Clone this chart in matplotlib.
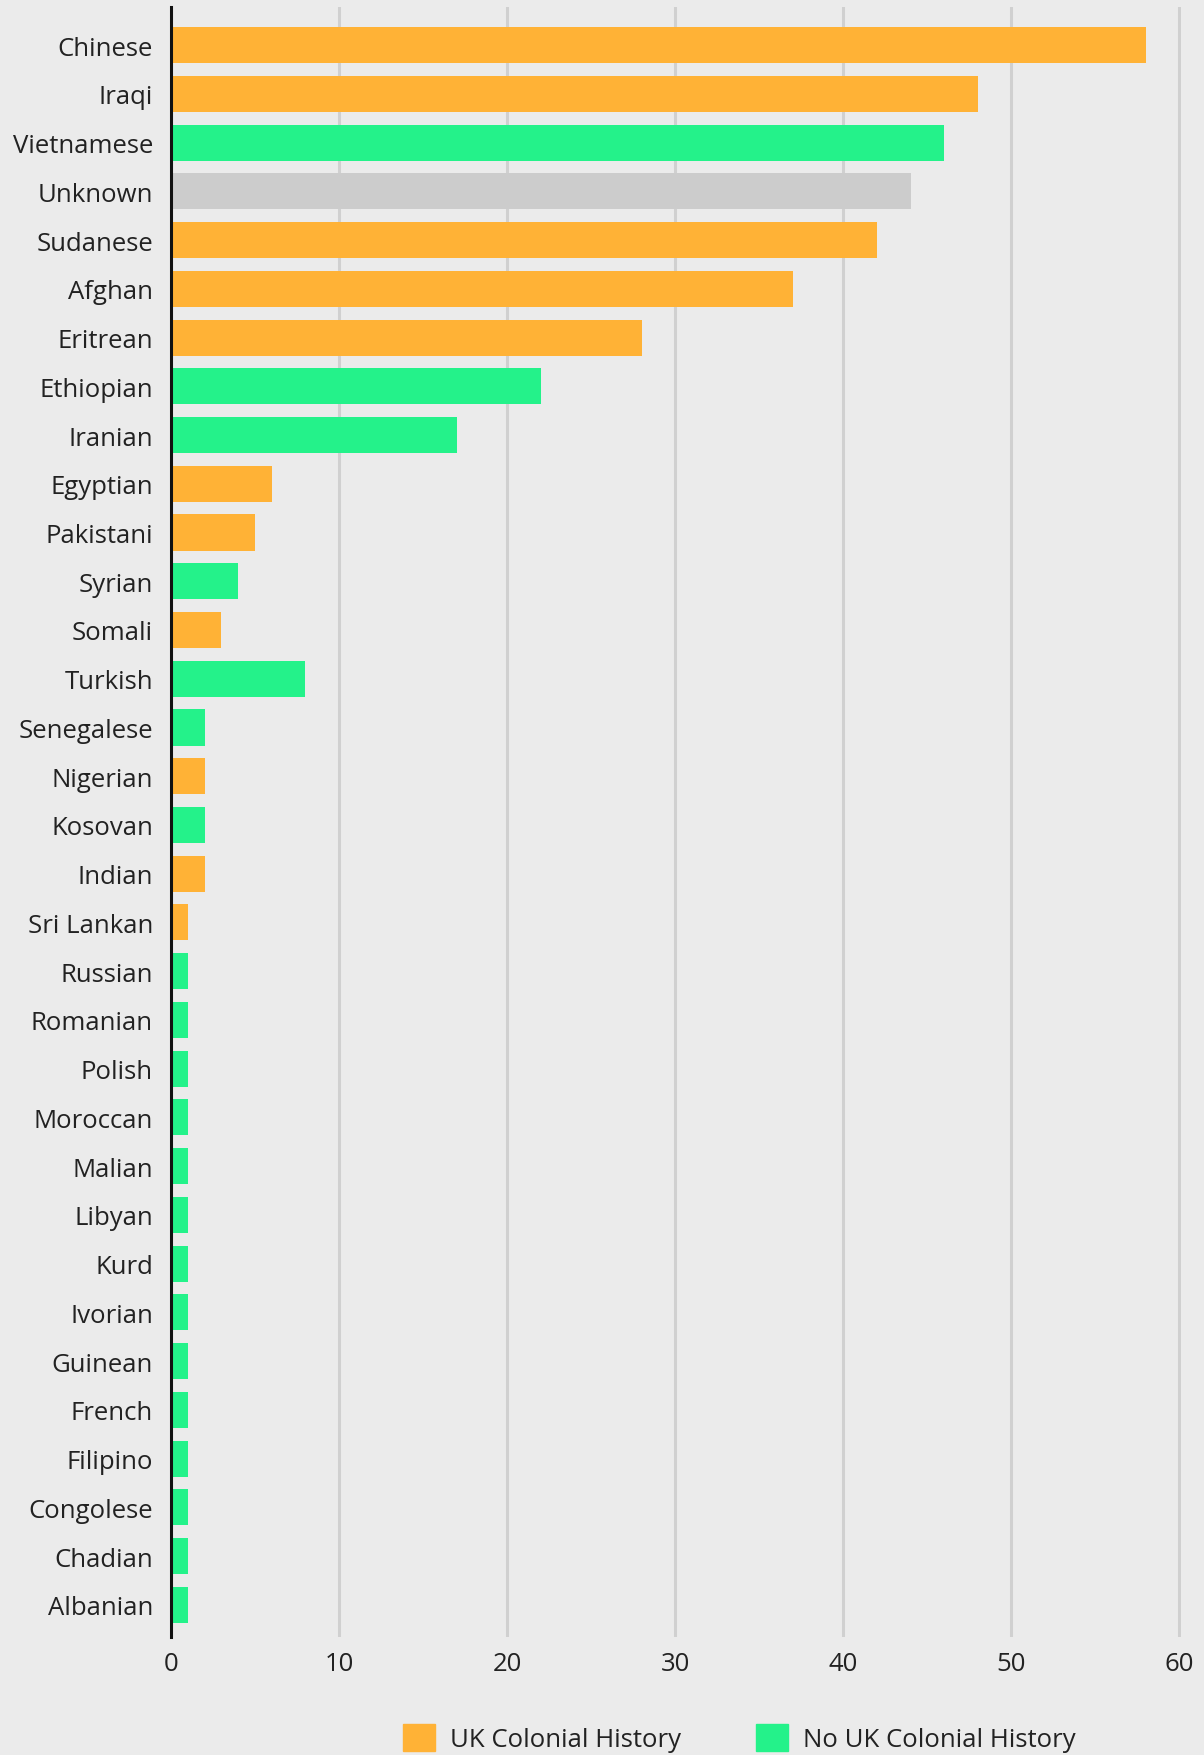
import matplotlib
matplotlib.use("Agg")
import matplotlib.pyplot as plt
from matplotlib.patches import Patch

plt.rcParams['font.family'] = ['Open Sans', 'DejaVu Sans']

nationalities = ["Chinese", "Iraqi", "Vietnamese", "Unknown", "Sudanese", "Afghan",
                 "Eritrean", "Ethiopian", "Iranian", "Egyptian", "Pakistani", "Syrian",
                 "Somali", "Turkish", "Senegalese", "Nigerian", "Kosovan", "Indian",
                 "Sri Lankan", "Russian", "Romanian", "Polish", "Moroccan", "Malian",
                 "Libyan", "Kurd", "Ivorian", "Guinean", "French", "Filipino",
                 "Congolese", "Chadian", "Albanian"]
counts = [58, 48, 46, 44, 42, 37, 28, 22, 17, 6, 5, 4, 3, 8, 2, 2, 2, 2,
          1, 1, 1, 1, 1, 1, 1, 1, 1, 1, 1, 1, 1, 1, 1]
# 'uk' = UK colonial history, 'no' = none, 'unk' = unknown
history = ["uk", "uk", "no", "unk", "uk", "uk", "uk", "no", "no", "uk", "uk", "no",
           "uk", "no", "no", "uk", "no", "uk", "uk", "no", "no", "no", "no", "no",
           "no", "no", "no", "no", "no", "no", "no", "no", "no"]

ORANGE = "#FFB236"
GREEN = "#24F28A"
GREY = "#CCCCCC"
BG = "#EBEBEB"
colour_map = {"uk": ORANGE, "no": GREEN, "unk": GREY}

fig = plt.figure(figsize=(12.04, 17.56), dpi=100, facecolor=BG)
ax = fig.add_axes([0.142, 0.0672, 0.839, 0.9282], facecolor=BG)

ypos = list(range(len(nationalities)))
ax.barh(ypos, counts, height=0.74, color=[colour_map[h] for h in history], zorder=3)

ax.set_ylim(len(nationalities) - 1 + 0.66, -0.78)
ax.set_xlim(0, 60.1)
ax.set_xticks(range(0, 61, 10))
ax.set_yticks(ypos)
ax.set_yticklabels(nationalities)
ax.tick_params(axis='both', length=0, labelsize=18.5, colors="#222222")
ax.tick_params(axis='y', pad=13)
ax.tick_params(axis='x', pad=10)
ax.xaxis.grid(True, color="#D0D0D0", linewidth=2.2, zorder=0)
for s in ["top", "right", "bottom"]:
    ax.spines[s].set_visible(False)
ax.spines["left"].set_color("#111111")
ax.spines["left"].set_linewidth(2.2)
ax.spines["left"].set_zorder(4)

handles = [Patch(color=ORANGE, label="UK Colonial History"),
           Patch(color=GREEN, label="No UK Colonial History")]
fig.legend(handles=handles, loc="center", bbox_to_anchor=(0.614, 0.0095), ncol=2,
           frameon=False, fontsize=18.5, handlelength=1.25, handleheight=1.25,
           handletextpad=0.58, columnspacing=2.9, labelcolor="#222222",
           borderpad=0)

fig.savefig("out.png", dpi=100, facecolor=BG)
